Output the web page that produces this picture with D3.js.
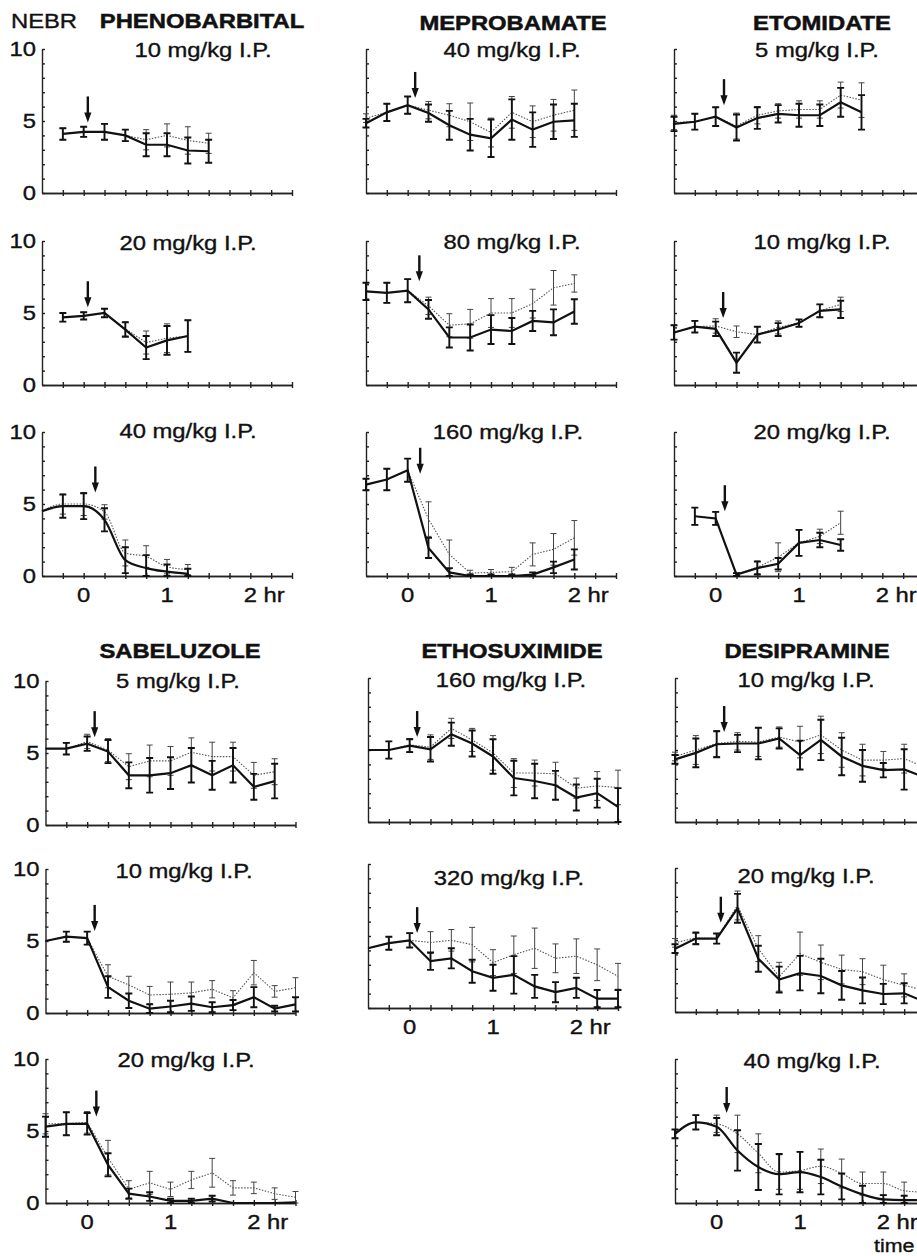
<!DOCTYPE html>
<html>
<head>
<meta charset="utf-8">
<script src="https://cdn.jsdelivr.net/npm/d3@7"></script>
<style>
  body { margin: 0; background: #fff; }
  text { font-family: "Liberation Sans", Arial, Helvetica, sans-serif; fill: #111; }
</style>
</head>
<body>
<div id="chart-area"></div>
<script>
// sampling times (hr), 15 min apart
var times = [-0.5, -0.25, 0, 0.25, 0.5, 0.75, 1, 1.25, 1.5, 1.75, 2, 2.25, 2.5];

var drugs = ["PHENOBARBITAL", "MEPROBAMATE", "ETOMIDATE", "SABELUZOLE", "ETHOSUXIMIDE", "DESIPRAMINE"];
var doses = ["10 mg/kg I.P.", "20 mg/kg I.P.", "40 mg/kg I.P.",
             "40 mg/kg I.P.", "80 mg/kg I.P.", "160 mg/kg I.P.",
             "5 mg/kg I.P.", "10 mg/kg I.P.", "20 mg/kg I.P.",
             "5 mg/kg I.P.", "10 mg/kg I.P.", "20 mg/kg I.P.",
             "160 mg/kg I.P.", "320 mg/kg I.P.",
             "10 mg/kg I.P.", "20 mg/kg I.P.", "40 mg/kg I.P."];
// index in times[] of the first sample of each panel
var firstSample = [1, 1, 0, 0, 0, 0, 0, 0, 1, 0, 0, 0, 0, 0, 0, 0, 0];

// heavy line (mean) and its error
var solidMean = [
  [4.1, 4.25, 4.25, 4.0, 3.35, 3.35, 2.95, 2.9],
  [4.7, 4.8, 5.0, 3.85, 2.6, 3.1, 3.4],
  [4.5, 4.85, 4.85, 3.9, 1.1, 0.55, 0.3, 0.15],
  [4.85, 5.6, 6.1, 5.55, 4.7, 4.05, 3.8, 5.1, 4.4, 4.95, 5.05],
  [6.5, 6.4, 6.55, 5.25, 3.3, 3.3, 3.85, 3.75, 4.45, 4.35, 5.1],
  [6.35, 6.7, 7.35, 1.95, 0.25, 0, 0, 0, 0.1, 0.6, 1.15],
  [4.8, 4.95, 5.3, 4.55, 5.2, 5.5, 5.4, 5.4, 6.3, 5.6],
  [3.65, 4.05, 3.9, 1.55, 3.5, 3.85, 4.3, 5.15, 5.25],
  [4.15, 4.0, 0.1, 0.55, 0.85, 2.3, 2.5, 2.15],
  [5.3, 5.3, 5.65, 5.1, 3.45, 3.45, 3.6, 4.15, 3.45, 4.15, 2.65, 3.05],
  [5.0, 5.3, 5.2, 1.8, 0.85, 0.3, 0.45, 0.65, 0.4, 0.55, 1.1, 0.3, 0.6],
  [5.3, 5.5, 5.5, 2.65, 0.65, 0.45, 0.15, 0.15, 0.3, 0, 0, 0, 0.05],
  [5.0, 5.0, 5.3, 5.05, 6.1, 5.45, 4.55, 3.05, 2.85, 2.55, 1.7, 2.0, 1.05],
  [4.15, 4.5, 4.7, 3.25, 3.45, 2.55, 2.1, 2.3, 1.5, 1.1, 1.4, 0.65, 0.65],
  [4.35, 4.8, 5.4, 5.45, 5.45, 5.8, 4.65, 5.7, 4.55, 3.9, 3.6, 3.65, 3.1],
  [4.4, 5.1, 5.1, 7.2, 3.7, 2.25, 2.7, 2.5, 1.85, 1.5, 1.25, 1.3, 0.7],
  [4.8, 5.6, 5.3, 3.65, 2.5, 2.0, 2.15, 1.8, 1.15, 0.6, 0.25, 0.2, 0.2]
];
var solidErr = [
  [0.4, 0.35, 0.55, 0.4, 0.8, 0.8, 0.9, 0.8],
  [0.3, 0.25, 0.3, 0.5, 0.8, 1.0, 1.1],
  [0, 0.8, 0.9, 0.8, 0.9, 0.9, 0.5, 0.35],
  [0.3, 0.6, 0.6, 0.6, 1.0, 1.1, 1.3, 1.4, 1.2, 1.2, 1.15],
  [0.6, 0.7, 0.8, 0.65, 0.7, 0.9, 1.0, 0.9, 0.7, 0.9, 0.85],
  [0.4, 0.75, 0.8, 0.7, 0.3, 0.1, 0.1, 0.1, 0.15, 0.4, 0.7],
  [0.5, 0.55, 0.65, 0.9, 0.75, 0.6, 0.8, 0.75, 1.0, 1.2],
  [0.5, 0.4, 0.5, 0.7, 0.55, 0.45, 0.25, 0.45, 0.6],
  [0.6, 0.45, 0.1, 0.45, 0.4, 0.9, 0.5, 0.4],
  [0, 0.4, 0.5, 0.8, 0.9, 1.2, 1.1, 1.2, 1.0, 1.2, 0.9, 1.2],
  [0, 0.35, 0.45, 0.75, 0.5, 0.3, 0.4, 0.5, 0.35, 0.35, 0.7, 0.2, 0.5],
  [0.7, 0.8, 0.75, 0.8, 0.35, 0.3, 0.15, 0.15, 0.2, 0, 0, 0, 0],
  [0, 0.6, 0.45, 0.85, 0.8, 0.9, 1.2, 1.2, 1.2, 1.0, 0.9, 1.0, 1.3],
  [0, 0.45, 0.5, 0.6, 0.7, 0.8, 0.9, 1.3, 0.8, 0.7, 0.7, 0.6, 0.6],
  [0.3, 1.0, 0.9, 0.6, 1.1, 0.7, 1.0, 1.4, 1.3, 1.1, 0.5, 1.4, 1.2],
  [0.3, 0.4, 0.35, 1.0, 0.9, 0.9, 1.2, 1.2, 1.0, 0.9, 0.7, 0.7, 0.6],
  [0.3, 0.5, 0.6, 1.4, 1.6, 1.4, 1.4, 1.2, 0.9, 0.6, 0.3, 0.3, 0.2]
];

// light dotted line (mean) and its error
var dottedMean = [
  [4.1, 4.25, 4.25, 4.0, 3.7, 4.0, 3.65, 3.45],
  [4.7, 4.8, 5.0, 3.9, 2.95, 3.25, 3.4],
  [4.5, 5.0, 5.0, 4.45, 1.6, 1.35, 0.65, 0.45],
  [5.2, 5.6, 6.1, 5.75, 5.4, 4.95, 4.2, 5.6, 4.95, 5.4, 5.75],
  [6.5, 6.4, 6.55, 5.5, 4.15, 4.25, 5.0, 5.0, 5.65, 6.75, 7.05],
  [6.35, 6.7, 7.35, 3.95, 1.5, 0.2, 0.25, 0.3, 1.5, 1.85, 2.65],
  [4.9, 4.95, 5.3, 4.65, 5.4, 5.7, 5.8, 5.8, 6.8, 6.45],
  [3.65, 4.05, 4.1, 3.7, 3.5, 4.0, 4.3, 5.15, 5.6],
  [4.15, 4.0, 0.1, 0.6, 1.3, 2.3, 2.75, 3.7],
  [5.3, 5.3, 5.8, 5.2, 4.05, 4.45, 4.45, 5.05, 4.75, 4.75, 3.45, 3.7],
  [5.0, 5.3, 5.2, 2.55, 1.95, 1.25, 1.3, 1.4, 1.65, 1.05, 2.8, 1.5, 1.75],
  [5.5, 5.5, 5.6, 3.15, 0.95, 1.4, 0.95, 1.6, 2.1, 1.05, 1.05, 0.65, 0.4],
  [5.0, 5.0, 5.35, 5.2, 6.5, 5.7, 4.8, 3.4, 3.4, 3.35, 2.35, 2.5, 2.4],
  [4.15, 4.5, 4.7, 4.55, 4.7, 4.4, 3.15, 3.7, 4.15, 3.45, 3.6, 3.0, 2.2],
  [4.55, 5.0, 5.45, 5.6, 5.55, 5.9, 5.55, 6.05, 5.0, 4.3, 4.3, 4.4, 3.8],
  [4.8, 5.15, 5.1, 7.4, 4.4, 2.45, 4.05, 3.45, 2.95, 2.8, 2.25, 1.85, 1.5],
  [4.8, 5.6, 5.5, 4.8, 3.45, 2.15, 2.25, 2.55, 2.05, 1.35, 1.35, 0.85, 0.75]
];
var dottedErr = [
  [0.4, 0.35, 0.55, 0.4, 0.7, 0.8, 0.95, 0.7],
  [0.3, 0.25, 0.3, 0.5, 0.8, 1.0, 1.1],
  [0, 0.7, 0.8, 0.5, 0.9, 0.75, 0.5, 0.35],
  [0.3, 0.6, 0.6, 0.6, 0.8, 1.3, 1.0, 1.1, 1.1, 1.1, 1.4],
  [0.6, 0.7, 0.8, 0.6, 0.8, 1.0, 1.0, 1.0, 1.0, 1.2, 0.6],
  [0.4, 0.75, 0.8, 1.2, 1.0, 0.2, 0.2, 0.3, 0.8, 1.1, 1.2],
  [0.5, 0.55, 0.65, 0.9, 0.6, 0.5, 0.6, 0.6, 0.9, 1.2],
  [0.5, 0.4, 0.5, 0.4, 0.55, 0.45, 0.25, 0.45, 0.5],
  [0.6, 0.45, 0.1, 0.45, 1.0, 0.9, 0.5, 0.8],
  [0, 0.4, 0.5, 0.8, 0.9, 1.1, 1.0, 1.0, 1.0, 1.0, 0.9, 0.9],
  [0, 0.35, 0.45, 0.8, 0.6, 0.6, 0.85, 0.75, 0.6, 0.5, 0.85, 0.4, 0.7],
  [0.7, 0.8, 0.75, 1.2, 0.6, 0.8, 0.5, 0.6, 1.0, 0.5, 0.4, 0.4, 0.4],
  [0, 0.6, 0.45, 0.85, 0.7, 0.8, 1.2, 1.0, 0.9, 0.8, 0.7, 1.0, 1.2],
  [0, 0.45, 0.5, 0.75, 0.75, 1.2, 0.9, 1.3, 1.4, 1.0, 1.2, 1.1, 0.9],
  [0.3, 1.0, 0.9, 0.6, 1.0, 0.7, 1.1, 1.3, 1.2, 1.1, 0.6, 1.0, 1.0],
  [0.3, 0.4, 0.35, 1.0, 0.9, 1.0, 1.5, 1.2, 1.0, 0.9, 1.0, 0.8, 0.7],
  [0.3, 0.5, 0.6, 1.3, 1.35, 1.2, 1.3, 1.2, 1.0, 0.8, 0.8, 0.6, 0.5]
];

// injection arrow: time (hr) and NEBR value at its tip
var arrowTime = [0.05, 0.05, 0.14, 0.09, 0.14, 0.15, 0.1, 0.09, 0.11, 0.09, 0.09, 0.11, 0.09, 0.09, 0.09, 0.05, 0.12];
var arrowTip  = [4.9, 5.4, 5.8, 6.6, 7.2, 7.1, 6.1, 4.65, 4.5, 6.1, 5.7, 6.0, 5.9, 5.2, 6.25, 6.2, 6.25];

var yTickLabels = [0, 5, 10];
var xTickLabels = [0, 1, 2];

// ---- layout (pixels) ----
// x: y-axis position, y: x-axis position, lx/ly: dose label centre/baseline
var layout = [
  {x: 42, y: 193, lx: 203, ly: 57, ylab: true},
  {x: 42, y: 385, lx: 188, ly: 250, ylab: true},
  {x: 42, y: 576, lx: 188, ly: 438, ylab: true, xlab: true, smooth: true},
  {x: 366, y: 193, lx: 512, ly: 57},
  {x: 366, y: 385, lx: 512, ly: 249},
  {x: 366, y: 576, lx: 508, ly: 439, xlab: true},
  {x: 674, y: 193, lx: 817, ly: 57},
  {x: 674, y: 385, lx: 822, ly: 249},
  {x: 674, y: 576, lx: 822, ly: 439, xlab: true},
  {x: 45.5, y: 825, lx: 178, ly: 688, ylab: true},
  {x: 45.5, y: 1013, lx: 184, ly: 878, ylab: true},
  {x: 45.5, y: 1203, lx: 186, ly: 1067, ylab: true, xlab: true},
  {x: 368, y: 822, lx: 511, ly: 687},
  {x: 368, y: 1008, lx: 509, ly: 885, xlab: true},
  {x: 675, y: 822, lx: 806, ly: 687},
  {x: 675, y: 1012, lx: 806, ly: 883},
  {x: 675, y: 1203, lx: 812, ly: 1068, xlab: true, smooth: true}
];
var titlePos = [[202, 28], [513, 30], [822, 30], [180, 658], [512, 658], [807, 658]];
var panelW = 250, panelH = 144, stretch = 1.19;

var svg = d3.select("#chart-area")
    .append("svg")
    .attr("width", 917)
    .attr("height", 1256);

function label(g, x, y, str, anchor, bold, size) {
    return g.append("text")
        .attr("transform", "translate(" + x + "," + y + ") scale(" + stretch + ",1)")
        .attr("text-anchor", anchor || "middle")
        .style("font-size", (size || 20) + "px")
        .style("font-weight", bold ? "bold" : "normal")
        .style("stroke", "#111")
        .style("stroke-width", bold ? 0.5 : 0.35)
        .text(str);
}

label(svg, 44, 28, "NEBR");
drugs.forEach(function(d, i) {
    label(svg, titlePos[i][0], titlePos[i][1], d, "middle", true);
});
label(svg, 874, 1252, "time", "start", false, 18);

layout.forEach(function(L, p) {
    var x = d3.scaleLinear().domain([-0.5, 2.5]).range([L.x, L.x + panelW]);
    var y = d3.scaleLinear().domain([0, 10]).range([L.y, L.y - panelH]);
    var g = svg.append("g");

    // axes
    var yAx = g.append("g").attr("transform", "translate(" + L.x + ",0)")
        .call(d3.axisRight(y).tickValues(d3.range(0, 11)).tickSize(3).tickSizeOuter(0).tickFormat(""));
    var xAx = g.append("g").attr("transform", "translate(0," + L.y + ")")
        .call(d3.axisBottom(x).tickValues(times.slice(1)).tickSize(3).tickSizeOuter(0).tickFormat(""));
    var xAx2 = g.append("g").attr("transform", "translate(0," + L.y + ")")
        .call(d3.axisTop(x).tickValues(times.slice(1)).tickSize(3).tickSizeOuter(0).tickFormat(""));
    [yAx, xAx, xAx2].forEach(function(a) {
        a.selectAll("path, line").attr("stroke", "#222").attr("stroke-width", 1.4);
    });

    if (L.ylab) {
        yTickLabels.forEach(function(v) {
            label(g, L.x - 6, y(v) + 7, v, "end");
        });
    }
    if (L.xlab) {
        xTickLabels.forEach(function(v) {
            if (v === 2) label(g, x(v) - 6.6, L.y + 26, "2 hr", "start");
            else label(g, x(v), L.y + 26, v);
        });
    }
    label(g, L.lx, L.ly, doses[p]);

    var series = [
        {mean: dottedMean[p], err: dottedErr[p], heavy: false},
        {mean: solidMean[p], err: solidErr[p], heavy: true}
    ];
    series.forEach(function(s) {
        var pts = s.mean.map(function(m, i) {
            return {t: times[firstSample[p] + i], m: m, e: s.err[i]};
        });
        var line = d3.line()
            .x(function(d) { return x(d.t); })
            .y(function(d) { return y(d.m); })
            .curve(L.smooth ? d3.curveMonotoneX : d3.curveLinear);
        g.append("path")
            .datum(pts)
            .attr("fill", "none")
            .attr("stroke", s.heavy ? "#111" : "#555")
            .attr("stroke-width", s.heavy ? 2.2 : 1.1)
            .attr("stroke-dasharray", s.heavy ? null : "1.5,1.5")
            .attr("d", line);

        var cap = s.heavy ? 3.5 : 3;
        g.selectAll(null)
            .data(pts.filter(function(d) { return d.e > 0; }))
            .enter().append("path")
            .attr("fill", "none")
            .attr("stroke", s.heavy ? "#111" : "#444")
            .attr("stroke-width", s.heavy ? 1.9 : 1)
            .attr("d", function(d) {
                var cx = x(d.t);
                var lo = y(Math.max(0, d.m - d.e)), hi = y(d.m + d.e);
                return "M" + cx + "," + lo + "V" + hi +
                       "M" + (cx - cap) + "," + hi + "H" + (cx + cap) +
                       "M" + (cx - cap) + "," + lo + "H" + (cx + cap);
            });
    });

    // injection arrow
    var ax = x(arrowTime[p]), ay = y(arrowTip[p]);
    g.append("line")
        .attr("x1", ax).attr("x2", ax)
        .attr("y1", ay - 26).attr("y2", ay - 8)
        .attr("stroke", "#111").attr("stroke-width", 2.4);
    g.append("path")
        .attr("d", "M" + (ax - 3.6) + "," + (ay - 10) + "L" + (ax + 3.6) + "," + (ay - 10) + "L" + ax + "," + ay + "Z")
        .attr("fill", "#111");
});
</script>
</body>
</html>
